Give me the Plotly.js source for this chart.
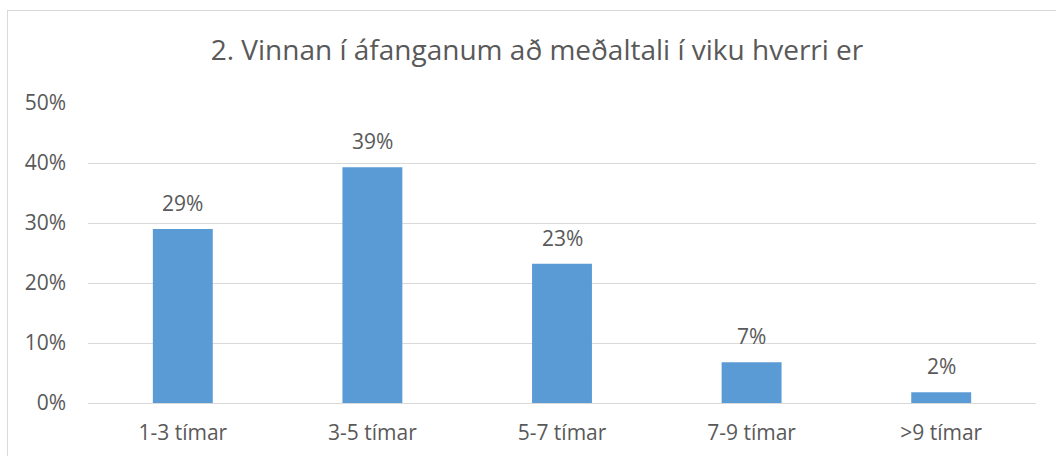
<!DOCTYPE html>
<html><head><meta charset="utf-8">
<script src="https://cdn.plot.ly/plotly-3.0.1.min.js"></script>
<style>
html,body{margin:0;padding:0;background:#fff;}
#wrap{position:relative;width:1056px;height:456px;overflow:hidden;}
#frame{position:absolute;left:7px;top:10px;width:1100px;height:500px;border:1px solid #d9d9d9;box-sizing:border-box;pointer-events:none;}
#chart{position:absolute;left:0;top:0;width:1056px;height:456px;}
</style></head>
<body><div id="wrap"><div id="chart"></div><div id="frame"></div></div>
<script>
const categories = ['1-3 tímar','3-5 tímar','5-7 tímar','7-9 tímar','>9 tímar'];
const values = [0.29, 0.393, 0.232, 0.068, 0.018];
const tickVals = [0, 0.1, 0.2, 0.3, 0.4, 0.5];
const tickText = ['0%','10%','20%','30%','40%','50%'];
const titleText = '2. Vinnan í áfanganum að meðaltali í viku hverri er';

const FONT = '"Open Sans", sans-serif';
const C = '#595959';

const annotations = categories.map((c,i)=>({
  x: c, y: values[i], xref:'x', yref:'y',
  text: Math.round(values[i]*100) + '%',
  showarrow:false, yanchor:'bottom', yshift:10,
  font:{family:FONT,size:21,color:C}
}));

Plotly.newPlot('chart', [{
  type:'bar', x:categories, y:values,
  marker:{color:'#5b9bd5'}, width:0.316, hoverinfo:'skip'
}], {
  width:1056, height:456,
  margin:{l:88,r:20,t:103,b:53},
  paper_bgcolor:'#fff', plot_bgcolor:'#fff',
  font:{family:FONT,color:C},
  title:{text:titleText, x:537/1056, xref:'container', xanchor:'center', y:1-50/456, yref:'container', yanchor:'middle',
    font:{family:FONT,size:28,color:C}},
  showlegend:false,
  xaxis:{type:'category', showgrid:false, showline:false, zeroline:false, ticks:'',
    tickfont:{family:FONT,size:21,color:C}, ticklabelstandoff:15, fixedrange:true},
  yaxis:{range:[0,0.5], tickvals:tickVals, ticktext:tickText, showgrid:true, gridcolor:'#d9d9d9', gridwidth:1,
    zeroline:true, zerolinecolor:'#d9d9d9', zerolinewidth:1, showline:false, ticks:'',
    tickfont:{family:FONT,size:21,color:C}, ticklabelstandoff:21, fixedrange:true},
  annotations: annotations
}, {displayModeBar:false, staticPlot:true});
</script></body></html>
